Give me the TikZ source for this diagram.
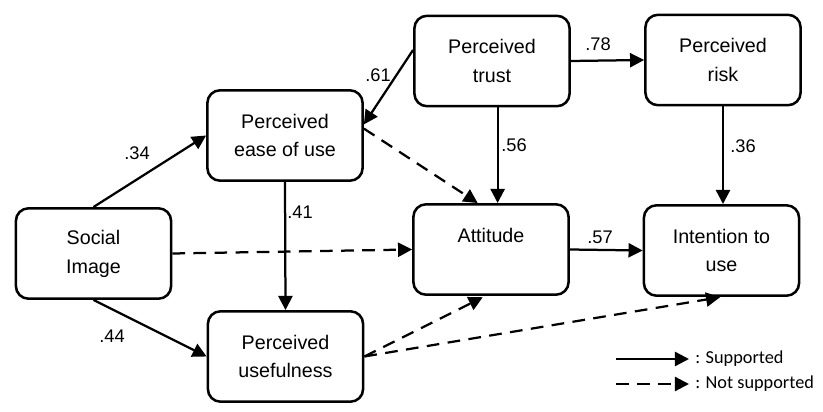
\documentclass[tikz,border=0pt]{standalone}
\usepackage{fontspec}
\setmainfont{Liberation Sans}
\newfontfamily\legendfont{Carlito}
\usetikzlibrary{arrows.meta}

\begin{document}
\begin{tikzpicture}[x=0.025cm,y=-0.025cm,>={Triangle[length=10pt,width=10pt]},
    box/.style={draw,line width=1.8pt,rounded corners=9pt,align=center,inner sep=0pt,
      minimum width=3.88cm,minimum height=2.26cm,font=\fontsize{14}{20.5}\selectfont},
    supp/.style={->,line width=1.6pt},
    nsupp/.style={supp,dash pattern=on 9pt off 6pt},
    coef/.style={font=\fontsize{13}{15}\selectfont},
    key/.style={anchor=west,inner sep=0pt,font=\legendfont\fontsize{13}{15}\selectfont}]
    \useasboundingbox (0,0) rectangle (823,412);
    % constructs
    \node[box] (social) at (93.5,253.5) {Social\\Image};
    \node[box] (ease) at (285,135.5) {Perceived\\ease of use};
    \node[box] (useful) at (285.5,356.5) {Perceived\\usefulness};
    \node[box] (trust) at (492,61) {Perceived\\trust};
    \node[box] (risk) at (723,60) {Perceived\\risk};
    \node[box] (attitude) at (491,249.5) {Attitude\\\mbox{}};
    \node[box] (intention) at (721.5,250.5) {Intention to\\use};
    % paths
    \draw[supp] (social.north)--(ease.west);\draw[supp] (social.south)--(useful.west);
    \draw[nsupp] (social.east)--(attitude.west);
    \draw[supp] (ease.south)--(useful.north);
    \draw[supp] (trust.172)--(ease.8);
    \draw[nsupp] (ease.5)--(attitude.106);
    \draw[supp] ([xshift=4]trust.south)--([xshift=4]trust.south |- attitude.north);
    \draw[supp] (trust.east)--(risk.west);
    \draw[supp] (risk.south)--(risk.south |- intention.north);
    \draw[supp] (attitude.east)--(intention.west);
    \draw[nsupp,shorten >=2pt] (useful.east)--(attitude.263);
    \draw[nsupp,shorten >=1pt] (useful.east)--(intention.south);
    % coefficients
    \node[coef] (c34) at (137,153) {.34};
    \node[coef] (c44) at (112,336) {.44};
    \node[coef] (c41) at (300,212) {.41};
    \node[coef] (c61) at (378,75) {.61};
    \node[coef] (c56) at (514,145) {.56};
    \node[coef] (c78) at (598,44) {.78};
    \node[coef] (c36) at (743,146) {.36};
    \node[coef] (c57) at (600,237) {.57};
    % legend
    \coordinate (s1) at (616,359);\coordinate (s2) at (689,359);
    \coordinate (n1) at (616,384);\coordinate (n2) at (689,384);
    \draw[supp] (s1)--(s2);\draw[nsupp] (n1)--(n2);
    \node[key] (ks) at (695,359) {: Supported};
    \node[key] (kn) at (695,384) {: Not supported};
\end{tikzpicture}
\end{document}
